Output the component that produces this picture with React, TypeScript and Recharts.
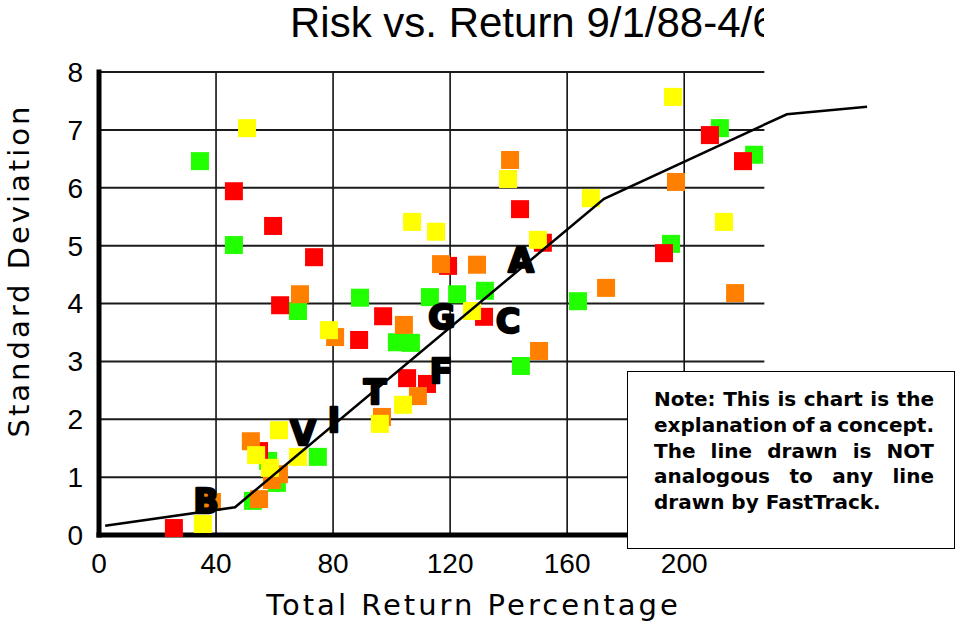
import React from 'react';
import {
  ScatterChart,
  Scatter,
  XAxis,
  YAxis,
  ReferenceLine
} from 'recharts';

// Each fund: x = total return %, y = standard deviation
const greenFunds = [
  { x: 34.5, y: 6.46 }, { x: 46.1, y: 5.01 }, { x: 68.0, y: 3.87 }, { x: 89.2, y: 4.10 },
  { x: 113.1, y: 4.11 }, { x: 122.4, y: 4.16 }, { x: 131.9, y: 4.22 }, { x: 101.8, y: 3.33 },
  { x: 106.6, y: 3.32 }, { x: 144.2, y: 2.92 }, { x: 163.7, y: 4.04 }, { x: 212.2, y: 7.03 },
  { x: 223.9, y: 6.57 }, { x: 195.5, y: 5.03 }, { x: 57.8, y: 1.28 }, { x: 60.8, y: 0.90 },
  { x: 74.8, y: 1.35 }, { x: 52.6, y: 0.59 }
];

const redFunds = [
  { x: 46.1, y: 5.94 }, { x: 59.5, y: 5.34 }, { x: 73.5, y: 4.80 }, { x: 61.9, y: 3.97 },
  { x: 97.1, y: 3.78 }, { x: 88.9, y: 3.37 }, { x: 119.3, y: 4.65 }, { x: 143.9, y: 5.63 },
  { x: 151.7, y: 5.05 }, { x: 131.6, y: 3.77 }, { x: 105.3, y: 2.71 }, { x: 112.1, y: 2.61 },
  { x: 208.8, y: 6.91 }, { x: 220.1, y: 6.46 }, { x: 193.1, y: 4.87 }, { x: 54.7, y: 1.45 },
  { x: 25.6, y: 0.12 }
];

const orangeFunds = [
  { x: 68.7, y: 4.16 }, { x: 80.7, y: 3.42 }, { x: 104.2, y: 3.63 }, { x: 116.9, y: 4.68 },
  { x: 129.2, y: 4.67 }, { x: 140.5, y: 6.48 }, { x: 150.4, y: 3.18 }, { x: 109.0, y: 2.40 },
  { x: 96.7, y: 2.04 }, { x: 197.2, y: 6.10 }, { x: 173.3, y: 4.27 }, { x: 217.4, y: 4.18 },
  { x: 51.9, y: 1.62 }, { x: 61.5, y: 1.05 }, { x: 59.1, y: 0.95 }, { x: 54.7, y: 0.62 },
  { x: 38.6, y: 0.57 }
];

const yellowFunds = [
  { x: 50.6, y: 7.03 }, { x: 78.6, y: 3.54 }, { x: 107.0, y: 5.41 }, { x: 115.2, y: 5.24 },
  { x: 139.8, y: 6.15 }, { x: 150.0, y: 5.10 }, { x: 127.5, y: 3.87 }, { x: 103.9, y: 2.25 },
  { x: 96.0, y: 1.92 }, { x: 196.2, y: 7.57 }, { x: 168.1, y: 5.82 }, { x: 213.6, y: 5.41 },
  { x: 53.7, y: 1.38 }, { x: 58.4, y: 1.16 }, { x: 68.0, y: 1.35 }, { x: 61.5, y: 1.81 },
  { x: 35.5, y: 0.19 }
];

// The hand-drawn "concept" line
const conceptLine = [
  { x: 2.1, y: 0.16 },
  { x: 46.5, y: 0.48 },
  { x: 172.6, y: 5.81 },
  { x: 235.1, y: 7.27 },
  { x: 262.5, y: 7.4 }
];

const fundLabels = [
  { x: 36.6, y: 0.59, label: 'B' },
  { x: 69.7, y: 1.76, label: 'V' },
  { x: 80.3, y: 1.99, label: 'I' },
  { x: 94.3, y: 2.47, label: 'T' },
  { x: 116.9, y: 2.83, label: 'F' },
  { x: 117.2, y: 3.76, label: 'G' },
  { x: 139.8, y: 3.7, label: 'C' },
  { x: 144.2, y: 4.75, label: 'A' }
];

const xTicks = [0, 40, 80, 120, 160, 200];
const yTicks = [0, 1, 2, 3, 4, 5, 6, 7, 8];
const gridRight = 227.4;

const noteLines = [
  'Note: This is chart is the',
  'explanation of a concept.',
  'The line drawn is NOT',
  'analogous to any line',
  'drawn by FastTrack.'
];

const square = (color: string) => (props: any) => {
  const { cx, cy } = props;
  if (cx == null || cy == null) return <g />;
  return <rect x={cx - 9} y={cy - 9} width={18} height={18} fill={color} />;
};

const LetterMark = (props: any) => {
  const { cx, cy, payload } = props;
  if (cx == null || cy == null) return <g />;
  return (
    <text
      x={cx}
      y={cy + 12}
      textAnchor="middle"
      fontFamily="DejaVu Sans"
      fontWeight="bold"
      fontSize={33}
      fill="#000"
      stroke="#000"
      strokeWidth={2.5}
      strokeLinejoin="round"
    >
      {payload.label}
    </text>
  );
};

const labelFont = "'DejaVu Sans', Verdana, sans-serif";

export default function App() {
  return (
    <div style={{ position: 'absolute', left: 0, top: 0, width: 956, height: 623, background: '#fff', overflow: 'hidden' }}>
      <ScatterChart width={956} height={623} margin={{ top: 72, right: 67, bottom: 0, left: 39 }}>
        {/* grid stops at 227, the line runs on past it */}
        {xTicks.slice(1).map((v) => (
          <ReferenceLine
            key={'v' + v}
            segment={[{ x: v, y: 0 }, { x: v, y: 8 }]}
            stroke="#000"
            strokeWidth={1.5}
          />
        ))}
        {yTicks.slice(1).map((v) => (
          <ReferenceLine
            key={'h' + v}
            segment={[{ x: 0, y: v }, { x: gridRight, y: v }]}
            stroke="#1a1a1a"
            strokeWidth={2}
          />
        ))}
        <XAxis
          type="number"
          dataKey="x"
          domain={[0, 270]}
          ticks={xTicks}
          height={88}
          tickLine={false}
          tickMargin={12}
          axisLine={{ stroke: '#000', strokeWidth: 5, strokeLinecap: 'square' }}
          tick={{ fill: '#000', fontSize: 28, fontFamily: "'Liberation Sans', Arial, sans-serif" }}
        />
        <YAxis
          type="number"
          dataKey="y"
          domain={[0, 8]}
          ticks={yTicks}
          width={60}
          tickLine={false}
          tickMargin={10}
          axisLine={{ stroke: '#000', strokeWidth: 5, strokeLinecap: 'square' }}
          tick={{ fill: '#000', fontSize: 28, fontFamily: "'Liberation Sans', Arial, sans-serif" }}
        />
        <Scatter data={greenFunds} fill="#22ff00" shape={square('#22ff00')} isAnimationActive={false} />
        <Scatter data={redFunds} fill="#ff0000" shape={square('#ff0000')} isAnimationActive={false} />
        <Scatter data={orangeFunds} fill="#ff8000" shape={square('#ff8000')} isAnimationActive={false} />
        <Scatter data={yellowFunds} fill="#ffff00" shape={square('#ffff00')} isAnimationActive={false} />
        <Scatter
          data={conceptLine}
          fill="#000"
          line={{ stroke: '#000', strokeWidth: 2.5 }}
          shape={() => <g />}
          isAnimationActive={false}
        />
        <Scatter data={fundLabels} fill="#000" shape={LetterMark} isAnimationActive={false} />
      </ScatterChart>

      {/* title, cut off at the plot's right edge like the original */}
      <div
        style={{
          position: 'absolute', left: 290, top: 2, width: 474, overflow: 'hidden', whiteSpace: 'nowrap',
          fontFamily: "'Liberation Sans', Arial, sans-serif", fontSize: 42, lineHeight: '42px', color: '#000'
        }}
      >
        Risk vs. Return 9/1/88-4/6
      </div>

      <div
        style={{
          position: 'absolute', left: -181, top: 255.5, width: 400, height: 29, lineHeight: '29px',
          fontFamily: labelFont, fontSize: 29, letterSpacing: 3, textAlign: 'center', color: '#000',
          transform: 'rotate(-90deg)'
        }}
      >
        Standard Deviation
      </div>

      <div
        style={{
          position: 'absolute', left: 0, top: 591, width: 947, height: 29, lineHeight: '29px',
          fontFamily: labelFont, fontSize: 29, letterSpacing: 3, textAlign: 'center', color: '#000'
        }}
      >
        Total Return Percentage
      </div>

      <div
        style={{
          position: 'absolute', left: 627, top: 371, width: 328, height: 178, boxSizing: 'border-box',
          border: '1.5px solid #000', background: '#fff'
        }}
      />
      <div
        style={{
          position: 'absolute', left: 654, top: 387, width: 280,
          fontFamily: labelFont, fontWeight: 'bold', fontSize: 20, lineHeight: '25.8px', color: '#000'
        }}
      >
        {noteLines.map((line, i) => (
          <div
            key={i}
            style={{
              textAlign: i === noteLines.length - 1 ? 'left' : 'justify',
              textAlignLast: i === noteLines.length - 1 ? 'left' : 'justify',
              wordSpacing: i === 1 ? -3 : 0
            }}
          >
            {line}
          </div>
        ))}
      </div>
    </div>
  );
}
